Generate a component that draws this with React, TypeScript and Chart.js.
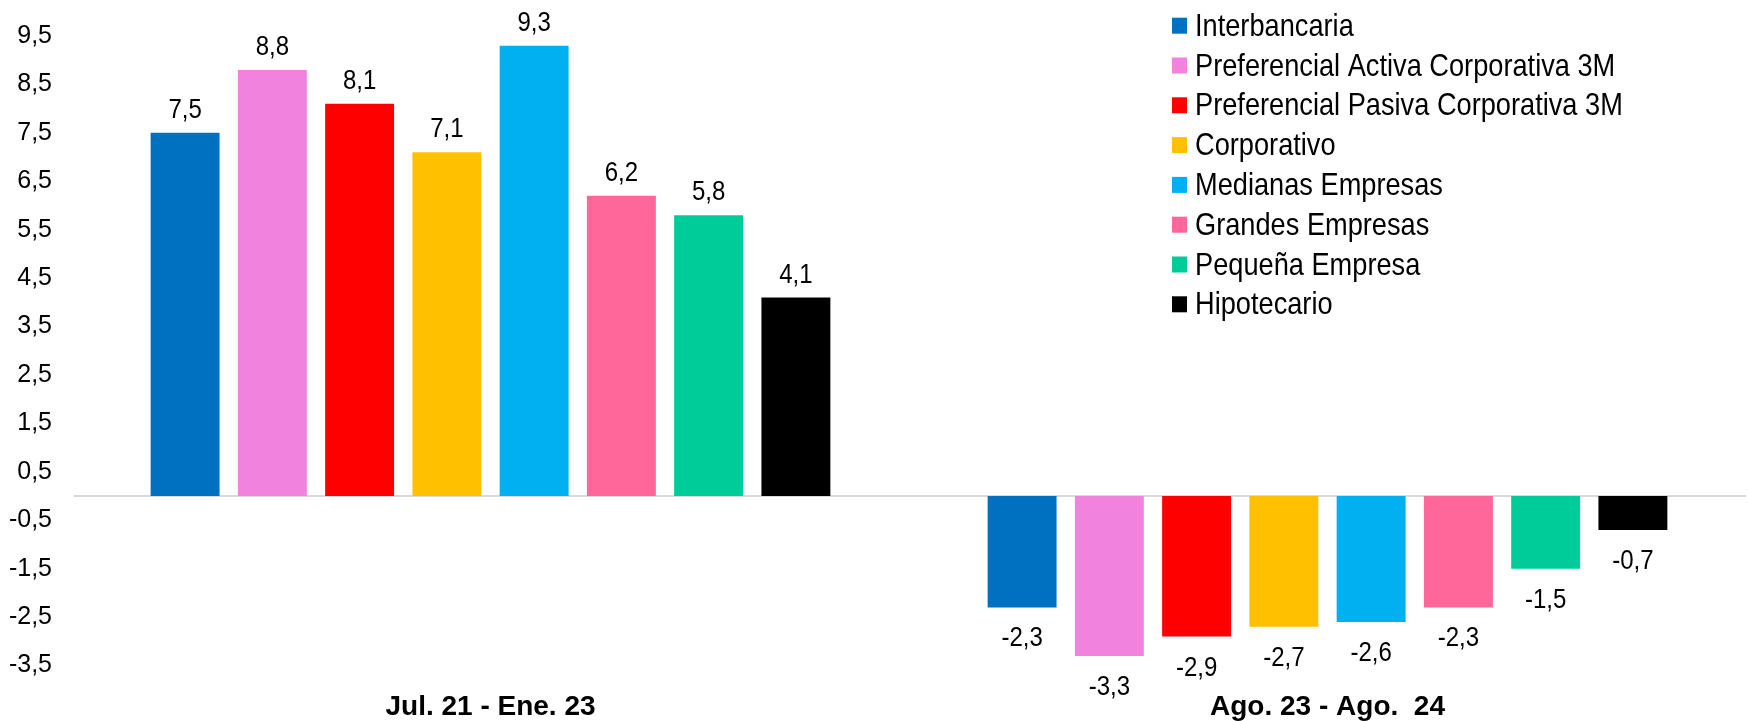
import React, { useEffect, useRef } from "react";
import { Chart, registerables } from "chart.js";

Chart.register(...registerables);

const categories = ["Jul. 21 - Ene. 23", "Ago. 23 - Ago.  24"];

const seriesNames = [
  "Interbancaria",
  "Preferencial Activa Corporativa 3M",
  "Preferencial Pasiva Corporativa 3M",
  "Corporativo",
  "Medianas Empresas",
  "Grandes Empresas",
  "Pequeña Empresa",
  "Hipotecario",
];

const interbancaria = [7.5, -2.3];
const prefActiva = [8.8, -3.3];
const prefPasiva = [8.1, -2.9];
const corporativo = [7.1, -2.7];
const medianas = [9.3, -2.6];
const grandes = [6.2, -2.3];
const pequena = [5.8, -1.5];
const hipotecario = [4.1, -0.7];

const seriesValues = [
  interbancaria,
  prefActiva,
  prefPasiva,
  corporativo,
  medianas,
  grandes,
  pequena,
  hipotecario,
];

const seriesColors = [
  "#0070C0",
  "#F183DE",
  "#FF0000",
  "#FFC000",
  "#00B0F0",
  "#FF6699",
  "#00CC99",
  "#000000",
];

const yTickValues = [9.5, 8.5, 7.5, 6.5, 5.5, 4.5, 3.5, 2.5, 1.5, 0.5, -0.5, -1.5, -2.5, -3.5];

const FONT = "'Liberation Sans', Arial, sans-serif";
const fmt = (v: number) => v.toFixed(1).replace(".", ",");

const zeroLinePlugin = {
  id: "zeroLine",
  beforeDatasetsDraw(chart: any) {
    const { ctx, chartArea, scales } = chart;
    const y0 = scales.y.getPixelForValue(0);
    ctx.save();
    ctx.strokeStyle = "#d9d9d9";
    ctx.lineWidth = 2;
    ctx.beginPath();
    ctx.moveTo(chartArea.left + 2, y0);
    ctx.lineTo(chartArea.right, y0);
    ctx.stroke();
    ctx.restore();
  },
};

const dataLabelPlugin = {
  id: "dataLabels",
  afterDatasetsDraw(chart: any) {
    const { ctx } = chart;
    ctx.save();
    ctx.fillStyle = "#000";
    ctx.font = `27px ${FONT}`;
    ctx.textAlign = "center";
    ctx.textBaseline = "alphabetic";
    chart.data.datasets.forEach((ds: any, di: number) => {
      const meta = chart.getDatasetMeta(di);
      meta.data.forEach((bar: any, i: number) => {
        const v = ds.data[i] as number;
        const yb = v >= 0 ? bar.y - 15 : bar.y + 39;
        ctx.save();
        ctx.translate(bar.x, yb);
        ctx.scale(0.89, 1);
        ctx.fillText(fmt(v), 0, 0);
        ctx.restore();
      });
    });
    ctx.restore();
  },
};

const legendPlugin = {
  id: "customLegend",
  afterDraw(chart: any) {
    const { ctx } = chart;
    ctx.save();
    ctx.font = `32px ${FONT}`;
    ctx.textAlign = "left";
    ctx.textBaseline = "alphabetic";
    chart.data.datasets.forEach((ds: any, i: number) => {
      const base = 35.7 + i * 39.8;
      ctx.fillStyle = ds.backgroundColor;
      ctx.fillRect(1172, base - 18, 15, 16);
      ctx.fillStyle = "#000";
      ctx.save();
      ctx.translate(1195, base);
      ctx.scale(0.85, 1);
      ctx.fillText(ds.label, 0, 0);
      ctx.restore();
    });
    ctx.restore();
  },
};

export default function App() {
  const ref = useRef<HTMLCanvasElement | null>(null);

  useEffect(() => {
    if (!ref.current) return;
    const chart = new Chart(ref.current, {
      type: "bar",
      data: {
        labels: categories,
        datasets: seriesNames.map((name, i) => ({
          label: name,
          data: seriesValues[i],
          backgroundColor: seriesColors[i],
          borderWidth: 0,
          categoryPercentage: 0.834,
          barPercentage: 0.79,
        })),
      },
      options: {
        animation: false,
        responsive: false,
        maintainAspectRatio: false,
        devicePixelRatio: 1,
        layout: { padding: { top: 36, right: 2, left: 0, bottom: 0 } },
        plugins: {
          legend: { display: false },
          tooltip: { enabled: false },
        },
        scales: {
          x: {
            grid: { display: false, drawTicks: false },
            border: { display: false },
            ticks: {
              color: "#000",
              padding: 25,
              font: { family: FONT, size: 28, weight: "bold" },
              maxRotation: 0,
              autoSkip: false,
            },
            afterFit(scale: any) {
              scale.height = 55.4;
            },
          },
          y: {
            min: -3.5,
            max: 9.5,
            grid: { display: false, drawTicks: false },
            border: { display: false },
            afterBuildTicks(scale: any) {
              scale.ticks = yTickValues.map((v) => ({ value: v }));
            },
            ticks: {
              color: "#000",
              padding: 20,
              font: { family: FONT, size: 25 },
              callback: (v: any) => fmt(Number(v)),
            },
            afterFit(scale: any) {
              scale.width = 72;
            },
          },
        },
      },
      plugins: [zeroLinePlugin, dataLabelPlugin, legendPlugin],
    });
    return () => chart.destroy();
  }, []);

  return (
    <div style={{ position: "fixed", left: 0, top: 0, width: 1748, height: 721, background: "#fff" }}>
      <canvas ref={ref} width={1748} height={721} style={{ width: 1748, height: 721, display: "block" }} />
    </div>
  );
}
